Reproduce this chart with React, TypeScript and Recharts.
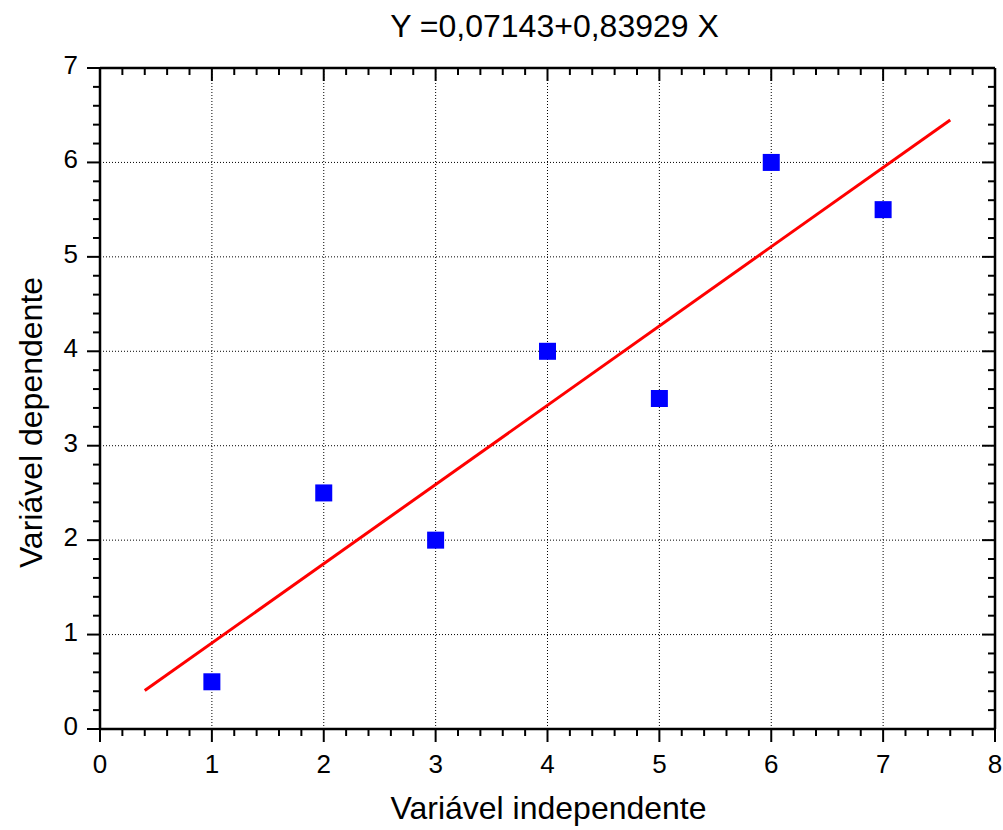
import {
  ScatterChart,
  Scatter,
  XAxis,
  YAxis,
  ReferenceLine,
  Label,
} from "recharts";

const xValues = [1, 2, 3, 4, 5, 6, 7];
const yValues = [0.5, 2.5, 2, 4, 3.5, 6, 5.5];

// regression line endpoints (x from 0.4 to 7.6)
const fitX = [0.4, 7.6];
const fitY = [0.4072, 6.4501];

const xGridTicks = [1, 2, 3, 4, 5, 6, 7];
const yGridTicks = [1, 2, 3, 4, 5, 6];

const title = "Y =0,07143+0,83929 X";
const xLabel = "Variável independente";
const yLabel = "Variável dependente";

// major + minor ticks, 5 steps per unit
const withMinor = (max: number) => {
  const out: number[] = [];
  for (let k = 0; k <= max * 5; k++) out.push(k / 5);
  return out;
};
const xAllTicks = withMinor(8);
const yAllTicks = withMinor(7);

const points = xValues.map((x, i) => ({ x, y: yValues[i] }));

const FONT = '"Liberation Sans", Arial, sans-serif';
const AXIS = { stroke: "#000", strokeWidth: 2.5 };

function BottomTick(props: any) {
  const { x, y, payload } = props;
  const major = Number.isInteger(payload.value);
  return (
    <g>
      <line x1={x} x2={x} y1={y} y2={y + (major ? 13 : 7)} stroke="#000" strokeWidth={2} />
      {major && (
        <text x={x} y={y + 44} textAnchor="middle" fontSize={26} fill="#000" fontFamily={FONT}>
          {payload.value}
        </text>
      )}
    </g>
  );
}

function TopTick(props: any) {
  const { x, y, payload } = props;
  const major = Number.isInteger(payload.value);
  return <line x1={x} x2={x} y1={y} y2={y + (major ? 13 : 7)} stroke="#000" strokeWidth={2} />;
}

function LeftTick(props: any) {
  const { x, y, payload } = props;
  const major = Number.isInteger(payload.value);
  return (
    <g>
      <line x1={x} x2={x - (major ? 13 : 7)} y1={y} y2={y} stroke="#000" strokeWidth={2} />
      {major && (
        <text x={x - 22} y={y + 6} textAnchor="end" fontSize={26} fill="#000" fontFamily={FONT}>
          {payload.value}
        </text>
      )}
    </g>
  );
}

function RightTick(props: any) {
  const { x, y, payload } = props;
  const major = Number.isInteger(payload.value);
  return <line x1={x} x2={x - (major ? 13 : 7)} y1={y} y2={y} stroke="#000" strokeWidth={2} />;
}

function SquareDot(props: any) {
  const { cx, cy } = props;
  return <rect x={cx - 8.5} y={cy - 8.5} width={17} height={17} fill="#0000ff" />;
}

export default function App() {
  return (
    <div
      style={{
        position: "absolute",
        left: 0,
        top: 0,
        width: 1003,
        height: 830,
        background: "#fff",
        fontFamily: FONT,
      }}
    >
      <ScatterChart width={1003} height={830} margin={{ top: 67, right: 7, bottom: 0, left: 0 }}>
        <XAxis
          xAxisId="b"
          type="number"
          dataKey="x"
          domain={[0, 8]}
          ticks={xAllTicks}
          interval={0}
          height={101}
          tickSize={0}
          tickMargin={0}
          tickLine={false}
          axisLine={AXIS}
          tick={<BottomTick />}
          allowDataOverflow
        >
          <Label
            content={(p: any) => {
              const vb = p.viewBox;
              return (
                <text
                  x={vb.x + vb.width / 2 + 1}
                  y={vb.y + 90}
                  textAnchor="middle"
                  fontSize={32}
                  fill="#000"
                  fontFamily={FONT}
                >
                  {xLabel}
                </text>
              );
            }}
          />
        </XAxis>
        <XAxis
          xAxisId="t"
          orientation="top"
          type="number"
          dataKey="x"
          domain={[0, 8]}
          ticks={xAllTicks}
          interval={0}
          height={1}
          tickSize={0}
          tickMargin={0}
          tickLine={false}
          axisLine={AXIS}
          tick={<TopTick />}
          allowDataOverflow
        >
          <Label
            content={(p: any) => {
              const vb = p.viewBox;
              return (
                <text
                  x={vb.x + vb.width / 2 + 7}
                  y={vb.y + vb.height - 31}
                  textAnchor="middle"
                  fontSize={32}
                  fill="#000"
                  fontFamily={FONT}
                >
                  {title}
                </text>
              );
            }}
          />
        </XAxis>
        <YAxis
          yAxisId="l"
          type="number"
          dataKey="y"
          domain={[0, 7]}
          ticks={yAllTicks}
          interval={0}
          width={100}
          tickSize={0}
          tickMargin={0}
          tickLine={false}
          axisLine={AXIS}
          tick={<LeftTick />}
          allowDataOverflow
        >
          <Label
            content={(p: any) => {
              const vb = p.viewBox;
              const cx = 42;
              const cy = vb.y + vb.height / 2 + 24;
              return (
                <text
                  x={cx}
                  y={cy}
                  transform={`rotate(-90 ${cx} ${cy})`}
                  textAnchor="middle"
                  fontSize={32}
                  fill="#000"
                  fontFamily={FONT}
                >
                  {yLabel}
                </text>
              );
            }}
          />
        </YAxis>
        <YAxis
          yAxisId="r"
          orientation="right"
          type="number"
          dataKey="y"
          domain={[0, 7]}
          ticks={yAllTicks}
          interval={0}
          width={1}
          tickSize={0}
          tickMargin={0}
          tickLine={false}
          axisLine={AXIS}
          tick={<RightTick />}
          allowDataOverflow
        />
        {xGridTicks.map((v) => (
          <ReferenceLine
            key={`gx${v}`}
            xAxisId="b"
            yAxisId="l"
            x={v}
            stroke="#000"
            strokeWidth={1}
            strokeDasharray="1 2"
          />
        ))}
        {yGridTicks.map((v) => (
          <ReferenceLine
            key={`gy${v}`}
            xAxisId="b"
            yAxisId="l"
            y={v}
            stroke="#000"
            strokeWidth={1}
            strokeDasharray="1 2"
          />
        ))}
        <ReferenceLine
          xAxisId="b"
          yAxisId="l"
          segment={[
            { x: fitX[0], y: fitY[0] },
            { x: fitX[1], y: fitY[1] },
          ]}
          stroke="#ff0000"
          strokeWidth={3}
        />
        <Scatter
          xAxisId="b"
          yAxisId="l"
          data={points}
          shape={<SquareDot />}
          isAnimationActive={false}
        />
      </ScatterChart>
    </div>
  );
}
